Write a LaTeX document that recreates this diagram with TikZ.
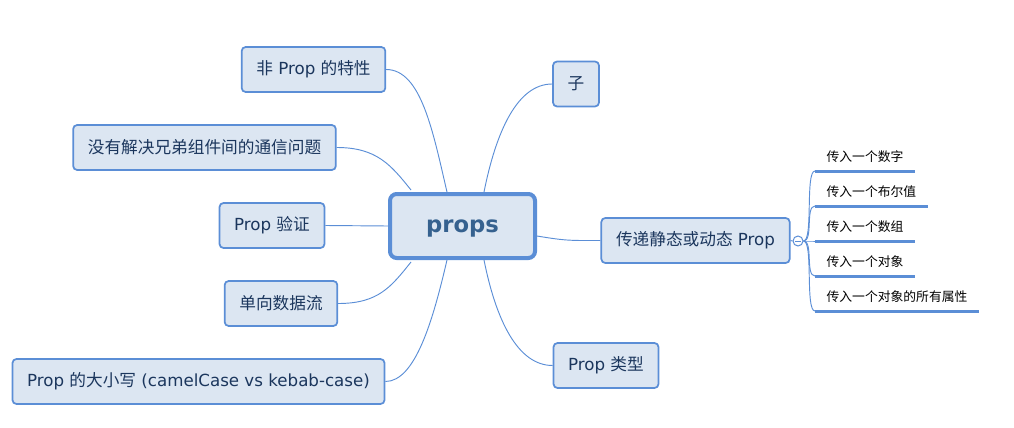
\documentclass[tikz,border=0pt]{standalone}
\usepackage{fontspec}
\setmainfont{DejaVu Sans}
\newfontfamily\cjk{Noto Sans CJK SC}
\usetikzlibrary{calc}

\definecolor{mapBlue}{HTML}{5B8ED6}
\definecolor{mapFill}{HTML}{DCE6F2}
\definecolor{mapText}{HTML}{1B365D}
\definecolor{rootText}{HTML}{35618F}

\begin{document}
\begin{tikzpicture}[x=0.75pt,y=-0.75pt,
    topic/.style={draw=mapBlue, fill=mapFill, line width=1.3pt, rounded corners=3pt,
        minimum height=33.75pt, inner xsep=11pt, text=mapText,
        font=\fontsize{12.5}{15}\selectfont},
    root/.style={draw=mapBlue, fill=mapFill, line width=3pt, rounded corners=5pt,
        minimum width=108.75pt, minimum height=48pt, text=rootText,
        text height=10pt, text depth=0pt,
        font=\fontsize{17}{20}\selectfont\bfseries},
    leaf/.style={anchor=south west, inner xsep=8.5pt, inner ysep=6.9pt, text depth=0pt,
        font=\cjk\fontsize{9.6}{11}\selectfont},
    branch/.style={draw=mapBlue, line width=0.7pt},
    underline/.style={draw=mapBlue, line width=2.25pt}]

    \useasboundingbox (0,0) rectangle (1014,428);

    % Centro
    \node[root] (props) at (462.5,226) {props};

    % Rami a sinistra
    \node[topic] (nonprop) at (313.5,69.5) {{\cjk 非} Prop {\cjk 的特性}};
    \node[topic] (sibling) at (204.5,147.5) {\cjk 没有解决兄弟组件间的通信问题};
    \node[topic] (valid) at (272,225.5) {Prop {\cjk 验证}};
    \node[topic] (oneway) at (281,303.5) {\cjk 单向数据流};
    \node[topic] (casing) at (198.5,381.5) {Prop {\cjk 的大小写} (camelCase vs kebab-case)};

    % Rami a destra
    \node[topic] (child) at (576,84) {\cjk 子};
    \node[topic] (pass) at (695.5,240.5) {{\cjk 传递静态或动态} Prop};
    \node[topic] (types) at (606,365.5) {Prop {\cjk 类型}};

    % Connessioni
    \draw[branch] (nonprop.east) .. controls +(35,0) and +(-14,-60) .. ($(props.north)+(-15.5,0)$);
    \draw[branch] (child.west) .. controls +(-35,0) and +(12,-60) .. ($(props.north)+(21.5,0)$);
    \draw[branch] (sibling.east) .. controls +(40,0) and +(-20,-25) .. ($(props.north)+(-51.5,-2)$);
    \draw[branch] (valid.east) -- (props.west);
    \draw[branch] (oneway.east) .. controls +(40,0) and +(-20,25) .. ($(props.south)+(-51.5,2)$);
    \draw[branch] (casing.east) .. controls +(30,0) and +(-14,60) .. ($(props.south)+(-15.5,0)$);
    \draw[branch] (types.west) .. controls +(-35,0) and +(12,60) .. ($(props.south)+(21.5,0)$);
    \draw[branch] ($(props.east)+(0,10)$) .. controls +(30,5) and +(-30,0) .. (pass.west);

    % Sotto-rami
    \node[circle, draw=mapBlue, fill=white, line width=0.75pt, minimum size=7.5pt, inner sep=0pt,
        path picture={\draw[mapBlue, line width=0.6pt] ([xshift=-2pt]path picture bounding box.center) -- ++(4pt,0);}]
        (fold) at (798,241) {};
    \draw[branch] (pass.east) -- (fold.west);

    \node[leaf] (num) at (815,171) {传入一个数字};
    \node[leaf] (bool) at (815,206) {传入一个布尔值};
    \node[leaf] (arr) at (815,241) {传入一个数组};
    \node[leaf] (obj) at (815,276) {传入一个对象};
    \node[leaf] (objall) at (815,311) {传入一个对象的所有属性};

    \foreach \leafname in {num,bool,arr,obj,objall} {
        \draw[branch] (fold.east) .. controls +(10,0) and +(-10,0) .. (\leafname.south west);
        \draw[underline] (\leafname.south west) -- (\leafname.south east);
    }

\end{tikzpicture}
\end{document}
